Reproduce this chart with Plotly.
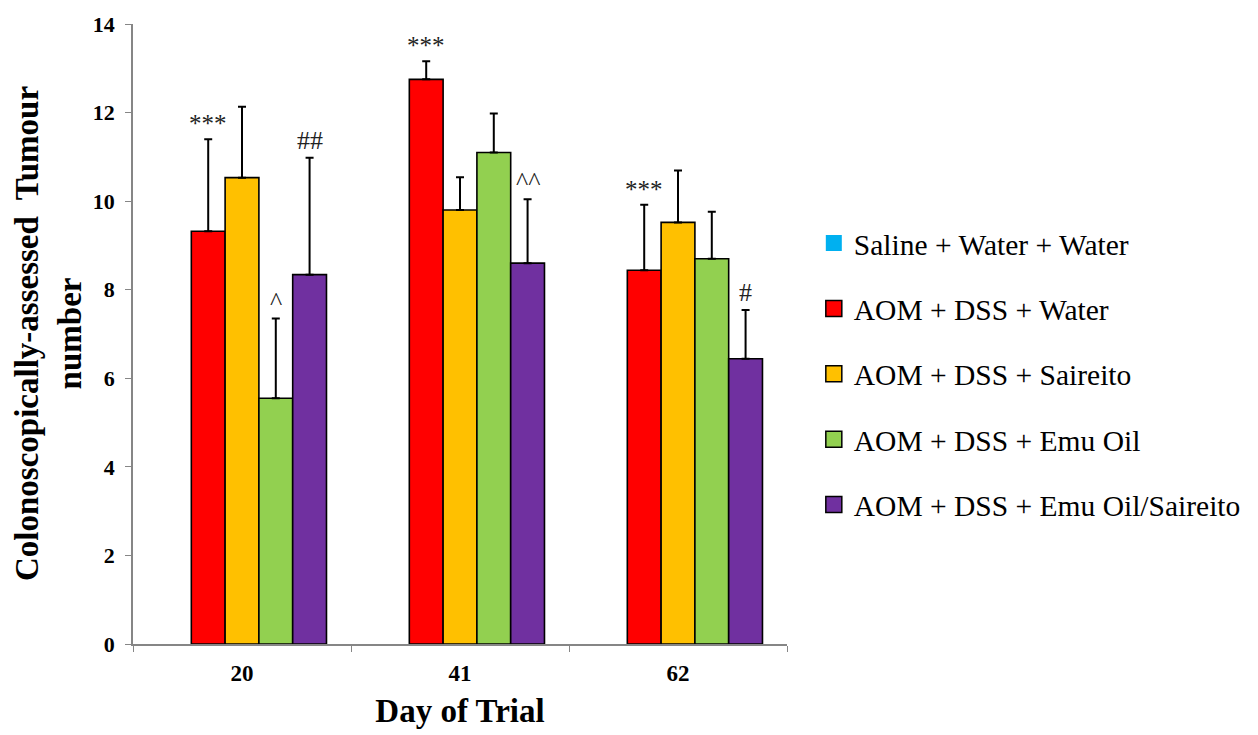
import plotly.graph_objects as go

days = ["20", "41", "62"]
series_names = [
    "Saline + Water + Water",
    "AOM + DSS + Water",
    "AOM + DSS + Saireito",
    "AOM + DSS + Emu Oil",
    "AOM + DSS + Emu Oil/Saireito",
]
saline = [0, 0, 0]
aom_water = [9.32, 12.75, 8.44]
aom_saireito = [10.53, 9.80, 9.52]
aom_emu = [5.55, 11.10, 8.70]
aom_emu_sai = [8.34, 8.60, 6.44]

err_saline = [0, 0, 0]
err_water = [2.08, 0.41, 1.48]
err_saireito = [1.60, 0.74, 1.17]
err_emu = [1.80, 0.88, 1.06]
err_emu_sai = [2.64, 1.44, 1.10]

sig_saline = ["", "", ""]
sig_water = ["***", "***", "***"]
sig_saireito = ["", "", ""]
sig_emu = ["^", "", ""]
sig_emu_sai = ["##", "^^", "#"]

colors = ["#00B0F0", "#FF0000", "#FFC000", "#92D050", "#7030A0"]

values = [saline, aom_water, aom_saireito, aom_emu, aom_emu_sai]
errors = [err_saline, err_water, err_saireito, err_emu, err_emu_sai]
sigs = [sig_saline, sig_water, sig_saireito, sig_emu, sig_emu_sai]

FONT = "Liberation Serif, Times New Roman, serif"
BARGAP = 0.225

fig = go.Figure()
for i, (name, vals, errs, col) in enumerate(zip(series_names, values, errors, colors)):
    fig.add_trace(go.Bar(
        x=days, y=vals, name=name, showlegend=False,
        marker=dict(color=col, line=dict(color="black", width=0 if i == 0 else 1.6)),
        error_y=dict(type="data", array=errs, arrayminus=[0] * len(errs), symmetric=False,
                     color="black", thickness=2, width=4, visible=(i != 0)),
    ))

# legend entries (larger square swatches)
for i, (name, col) in enumerate(zip(series_names, colors)):
    fig.add_trace(go.Scatter(
        x=[None], y=[None], mode="markers", name=name, legendgroup=name,
        marker=dict(symbol="square", size=16, color=col,
                    line=dict(color="black", width=0 if i == 0 else 1.5)),
        hoverinfo="skip",
    ))

n = len(series_names)
w = (1 - BARGAP) / n
annotations = []
for i in range(n):
    for j in range(len(days)):
        s = sigs[i][j]
        if not s:
            continue
        annotations.append(dict(
            x=j - (1 - BARGAP) / 2 + w * (i + 0.5), y=values[i][j] + errors[i][j],
            xref="x", yref="y", text=s, showarrow=False, yanchor="bottom",
            yshift=0 if "*" in s else 1,
            font=dict(family=FONT, size=26 if "*" not in s else 25, color="#222222"),
        ))

annotations.append(dict(
    x=(48 - 133) / 654, y=0.5, xref="paper", yref="paper", textangle=-90,
    text="<b>Colonoscopically-assessed&nbsp; Tumour<br>number</b>", showarrow=False,
    xanchor="center", yanchor="middle",
    font=dict(family=FONT, size=33, color="black"),
))

fig.update_layout(
    width=1258, height=735,
    margin=dict(l=133, r=471, t=20, b=90),
    paper_bgcolor="white", plot_bgcolor="white",
    barmode="group", bargap=BARGAP, bargroupgap=0,
    font=dict(family=FONT, color="black"),
    showlegend=True,
    legend=dict(x=1.041, y=0.688, xanchor="left", yanchor="top",
                font=dict(family=FONT, size=29.5, color="black"),
                tracegroupgap=24, traceorder="grouped", itemwidth=30),
    annotations=annotations,
)
fig.update_xaxes(
    type="category", tickson="boundaries", ticks="outside", ticklen=6,
    tickcolor="#868686", showline=True, linecolor="#868686", linewidth=1.5,
    tickfont=dict(family=FONT, size=23, color="black", weight="bold"),
    ticklabelstandoff=8,
    title=dict(text="<b>Day of Trial</b>", font=dict(family=FONT, size=33, color="black"), standoff=14),
    showgrid=False,
)
fig.update_yaxes(
    range=[0, 14], dtick=2, ticks="outside", ticklen=6,
    tickcolor="#868686", showline=True, linecolor="#868686", linewidth=1.5,
    tickfont=dict(family=FONT, size=22, color="black", weight="bold"),
    ticklabelstandoff=6, showgrid=False, zeroline=False,
)

fig.write_html("out.html")
